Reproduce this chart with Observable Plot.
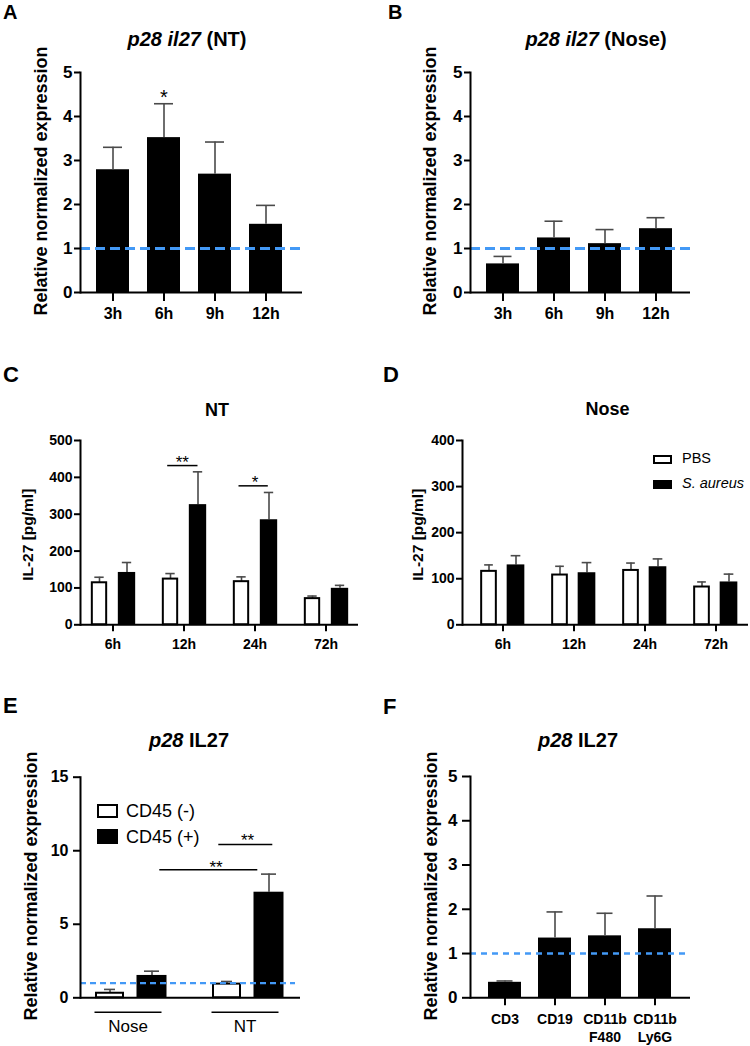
<!DOCTYPE html>
<html><head><meta charset="utf-8">
<script src="https://cdn.jsdelivr.net/npm/d3@7"></script>
<script src="https://cdn.jsdelivr.net/npm/@observablehq/plot@0.6"></script>
<style>
html,body{margin:0;padding:0;background:#fff;}
#fig{position:relative;width:750px;height:1046px;font-family:"Liberation Sans",Arial,Helvetica,sans-serif;color:#000;overflow:hidden;background:#fff}
.abs{position:absolute;white-space:nowrap;line-height:1}
.box{position:absolute;box-sizing:border-box;border:2px solid #000}
</style></head><body><div id="fig"></div>
<script>
// ---------- data ----------
const timesAB = ["3h", "6h", "9h", "12h"];
const ntMean = [2.79, 3.52, 2.69, 1.55];
const ntErr = [0.51, 0.77, 0.73, 0.43];
const noseMean = [0.65, 1.24, 1.11, 1.45];
const noseErr = [0.17, 0.38, 0.32, 0.25];

const timesCD = ["6h", "12h", "24h", "72h"];
const ntPbs = [114, 124, 117, 71];
const ntPbsErr = [15, 15, 13, 7];
const ntSa = [142, 326, 285, 99];
const ntSaErr = [27, 89, 74, 8];
const nosePbs = [116, 108, 118, 82];
const nosePbsErr = [14, 19, 16, 11];
const noseSa = [130, 113, 126, 93];
const noseSaErr = [20, 22, 17, 17];

const tissuesE = ["Nose", "NT"];
const cd45neg = [0.31, 0.93];
const cd45negErr = [0.26, 0.18];
const cd45pos = [1.52, 7.18];
const cd45posErr = [0.29, 1.23];

const cellsF = ["CD3", "CD19", "CD11b F480", "CD11b Ly6G"];
const cellMean = [0.35, 1.35, 1.40, 1.56];
const cellErr = [0.03, 0.59, 0.51, 0.74];

const ticksRel = [0, 1, 2, 3, 4, 5];
const ticksC = [0, 100, 200, 300, 400, 500];
const ticksD = [0, 100, 200, 300, 400];
const ticksE = [0, 5, 10, 15];
const refLevel = 1;

const sigA = [{cat: "6h", label: "*"}];
const sigC = [{cat: "12h", y: 432, label: "**"}, {cat: "24h", y: 377, label: "*"}];
const sigE = [{cat: "NT", y: 10.43, label: "**"}, {cat: "NT", y: 8.71, label: "**"}];

// ---------- helpers ----------
const FONT = '"Liberation Sans", Arial, Helvetica, sans-serif';
const BLUE = "#4399f6";
const ERR = "#4a4a4a";
const fmtInt = d3.format("d");
const fig = document.getElementById("fig");

function addSvg(svg, left, top) {
  svg.style.position = "absolute";
  svg.style.left = left + "px";
  svg.style.top = top + "px";
  svg.style.maxWidth = "none";
  fig.appendChild(svg);
}
function txt(html, x, base, size, opts = {}) {
  const d = document.createElement("div");
  d.className = "abs";
  const top = base - 0.8465 * size;
  const weight = opts.weight || "bold";
  let css = `top:${top}px;font-size:${size}px;font-weight:${weight};`;
  if (opts.center) css += `left:${x - 200}px;width:400px;text-align:center;`;
  else css += `left:${x}px;`;
  d.style.cssText = css + (opts.style || "");
  d.innerHTML = html;
  fig.appendChild(d);
}
function ylab(text, baselineX, cy, size) {
  const cx = baselineX - 0.3465 * size;
  const d = document.createElement("div");
  d.className = "abs";
  d.style.cssText = `left:${cx - 200}px;top:${cy - size / 2}px;width:400px;height:${size}px;text-align:center;font-size:${size}px;font-weight:bold;transform:rotate(-90deg);`;
  d.textContent = text;
  fig.appendChild(d);
}
function box(left, top, w, h, fill) {
  const d = document.createElement("div");
  d.className = "box";
  d.style.cssText = `left:${left}px;top:${top}px;width:${w}px;height:${h}px;background:${fill};`;
  fig.appendChild(d);
}
const baseStyle = {fontFamily: FONT, fontWeight: "bold", color: "#000", background: "transparent", overflow: "visible"};

function singlePanel(cfg) {
  const rows = cfg.cats.map((c, i) => ({cat: c, v: cfg.mean[i], top: cfg.mean[i] + cfg.err[i]}));
  const extra = [];
  if (cfg.sig) {
    const srows = cfg.sig.map(s => ({...s, y: rows.find(r => r.cat === s.cat).top}));
    extra.push(Plot.text(srows, {x: "cat", y: "y", text: "label", dy: cfg.sigDy, fontSize: 20, fontWeight: "normal", lineAnchor: "middle"}));
  }
  const svg = Plot.plot({
    width: cfg.W, height: cfg.H,
    marginLeft: cfg.ml, marginRight: cfg.mr, marginTop: cfg.mt, marginBottom: cfg.mb,
    x: {type: "band", domain: cfg.cats, range: cfg.range, paddingInner: 0.35, paddingOuter: 0.175},
    y: {domain: [0, d3.max(cfg.yTicks)]},
    style: baseStyle,
    marks: [
      Plot.barY(rows, {x: "cat", y: "v", fill: "#000"}),
      Plot.ruleX(rows, {x: "cat", y1: "v", y2: "top", stroke: ERR, strokeWidth: 1.6}),
      Plot.tickY(rows, {x: "cat", y: "top", stroke: ERR, strokeWidth: 1.6, inset: cfg.capInset}),
      Plot.ruleY([refLevel], {stroke: BLUE, strokeWidth: cfg.dashW, strokeDasharray: cfg.dash}),
      Plot.ruleY([0], {stroke: "#000", strokeWidth: 2}),
      Plot.frame({anchor: "left", stroke: "#000", strokeWidth: 2}),
      Plot.axisY({ticks: cfg.yTicks, tickFormat: fmtInt, tickSize: cfg.yTS, tickPadding: cfg.yTP, fontSize: cfg.yFS, label: null, strokeWidth: 2}),
      Plot.axisX({tickSize: cfg.xTS, tickPadding: cfg.xTP, fontSize: cfg.xFS, label: null, strokeWidth: 2,
        tickFormat: cfg.xFmt, lineHeight: cfg.lh || 1}),
      ...extra
    ]
  });
  addSvg(svg, cfg.left, cfg.top);
}

function groupedPanel(cfg) {
  const rows = cfg.cats.map((c, i) => ({cat: c, a: cfg.a[i], aTop: cfg.a[i] + cfg.aErr[i], b: cfg.b[i], bTop: cfg.b[i] + cfg.bErr[i]}));
  const half = (cfg.range[1] - cfg.range[0]) / cfg.cats.length / 2;
  const L = cfg.lay;
  const ins = (c, w) => ({insetLeft: half + c - w / 2, insetRight: half - c - w / 2});
  const svg = Plot.plot({
    width: cfg.W, height: cfg.H,
    marginLeft: cfg.ml, marginRight: cfg.mr, marginTop: cfg.mt, marginBottom: cfg.mb,
    x: {type: "band", domain: cfg.cats, range: cfg.range, padding: 0},
    y: {domain: [0, d3.max(cfg.yTicks)]},
    style: baseStyle,
    marks: [
      Plot.ruleX(rows, {x: "cat", y1: "a", y2: "aTop", dx: L.aC, stroke: ERR, strokeWidth: 1.6}),
      Plot.tickY(rows, {x: "cat", y: "aTop", stroke: ERR, strokeWidth: 1.6, ...ins(L.aC, L.capA)}),
      Plot.ruleX(rows, {x: "cat", y1: "b", y2: "bTop", dx: L.bC, stroke: ERR, strokeWidth: 1.6}),
      Plot.tickY(rows, {x: "cat", y: "bTop", stroke: ERR, strokeWidth: 1.6, ...ins(L.bC, L.capB)}),
      Plot.barY(rows, {x: "cat", y: "a", fill: "#fff", stroke: "#000", strokeWidth: 2, ...ins(L.aC, L.aW)}),
      Plot.barY(rows, {x: "cat", y: "b", fill: "#000", ...ins(L.bC, L.bW)}),
      ...(cfg.before || []),
      Plot.ruleY([0], {stroke: "#000", strokeWidth: 2}),
      Plot.frame({anchor: "left", stroke: "#000", strokeWidth: 2}),
      Plot.axisY({ticks: cfg.yTicks, tickFormat: fmtInt, tickSize: cfg.yTS, tickPadding: cfg.yTP, fontSize: cfg.yFS, label: null, strokeWidth: 2}),
      Plot.axisX({tickSize: cfg.xTS, tickPadding: cfg.xTP, fontSize: cfg.xFS, label: null, strokeWidth: 2,
        fontWeight: cfg.xFW || "bold", dx: cfg.xDx || 0}),
      ...(cfg.extra || [])
    ]
  });
  addSvg(svg, cfg.left, cfg.top);
}

// ---------- Panel A ----------
singlePanel({
  left: 0, top: 0, W: 375, H: 330, ml: 80, mr: 73, mt: 72, mb: 38,
  cats: timesAB, mean: ntMean, err: ntErr, range: [87.5, 291.5], yTicks: ticksRel,
  capInset: 7, dashW: 3, dash: "10,5",
  yTS: 6, yTP: 2, yFS: 17, xTS: 9, xTP: 6, xFS: 16,
  sig: sigA, sigDy: -6
});
// ---------- Panel B ----------
singlePanel({
  left: 375, top: 0, W: 375, H: 330, ml: 95, mr: 60, mt: 72, mb: 38,
  cats: timesAB, mean: noseMean, err: noseErr, range: [102.5, 306.5], yTicks: ticksRel,
  capInset: 7.5, dashW: 3, dash: "10,5",
  yTS: 6, yTP: 2, yFS: 17, xTS: 9, xTP: 6, xFS: 16
});
// ---------- Panel C ----------
const layC = {aC: -13.5, bC: 14, aW: 15, bW: 18, capA: 10, capB: 10};
groupedPanel({
  left: 0, top: 330, W: 375, H: 330, ml: 80, mr: 17, mt: 110, mb: 35.7,
  cats: timesCD, a: ntPbs, aErr: ntPbsErr, b: ntSa, bErr: ntSaErr,
  range: [75.2, 361.8], yTicks: ticksC, lay: layC,
  yTS: 6, yTP: 2, yFS: 14, xTS: 7, xTP: 7, xFS: 14,
  extra: [
    Plot.tickY(sigC.slice(0, 1), {x: "cat", y: "y", stroke: "#000", strokeWidth: 1.5, insetLeft: 19.2, insetRight: 21.5}),
    Plot.text(sigC.slice(0, 1), {x: "cat", y: "y", text: "label", dx: -1.7, dy: -3, fontSize: 17, fontWeight: "normal", lineAnchor: "middle"}),
    Plot.tickY(sigC.slice(1), {x: "cat", y: "y", stroke: "#000", strokeWidth: 1.5, insetLeft: 19.5, insetRight: 22.2}),
    Plot.text(sigC.slice(1), {x: "cat", y: "y", text: "label", dx: 0, dy: -3, fontSize: 17, fontWeight: "normal", lineAnchor: "middle"})
  ]
});
// ---------- Panel D ----------
const layD = {aC: -14, bC: 13, aW: 15, bW: 18, capA: 9, capB: 10};
groupedPanel({
  left: 375, top: 330, W: 375, H: 330, ml: 87, mr: 2, mt: 110, mb: 35.7,
  cats: timesCD, a: nosePbs, aErr: nosePbsErr, b: noseSa, bErr: noseSaErr,
  range: [91, 376.3], yTicks: ticksD, lay: layD,
  yTS: 6, yTP: 2, yFS: 14, xTS: 7, xTP: 7, xFS: 14
});
// ---------- Panel E ----------
const layE = {aC: -21, bC: 21, aW: 27, bW: 30, capA: 11, capB: 15};
groupedPanel({
  left: 0, top: 660, W: 375, H: 386, ml: 80, mr: 75, mt: 116.7, mb: 48.7,
  cats: tissuesE, a: cd45neg, aErr: cd45negErr, b: cd45pos, bErr: cd45posErr,
  range: [72.2, 306.2], yTicks: ticksE, lay: layE,
  yTS: 7, yTP: 5, yFS: 16, xTS: 0, xTP: 22, xFS: 17, xFW: "normal", xDx: -3,
  before: [
    Plot.ruleY([refLevel], {stroke: BLUE, strokeWidth: 2.2, strokeDasharray: "6,4", insetRight: 5})
  ],
  extra: [
    Plot.tickY(tissuesE.map(t => ({cat: t})), {x: "cat", y: 0, dy: 14.4, stroke: "#000", strokeWidth: 1.5, insetLeft: 22.5, insetRight: 27.5}),
    Plot.tickY(sigE.slice(0, 1), {x: "cat", y: "y", stroke: "#000", strokeWidth: 1.5, insetLeft: 29.3, insetRight: 33.7}),
    Plot.text(sigE.slice(0, 1), {x: "cat", y: "y", text: "label", dx: -0.5, dy: -3.4, fontSize: 17, fontWeight: "normal", lineAnchor: "middle"}),
    Plot.tickY(sigE.slice(1), {x: "cat", y: "y", stroke: "#000", strokeWidth: 1.5, insetLeft: -29.7, insetRight: 48.7}),
    Plot.text(sigE.slice(1), {x: "cat", y: "y", text: "label", dx: -32, dy: -2, fontSize: 17, fontWeight: "normal", lineAnchor: "middle"})
  ]
});
// ---------- Panel F ----------
singlePanel({
  left: 375, top: 660, W: 375, H: 386, ml: 95, mr: 60, mt: 116, mb: 48.7,
  cats: cellsF, mean: cellMean, err: cellErr, range: [102.7, 305.3], yTicks: ticksRel,
  capInset: 8.5, dashW: 2.4, dash: "6,5",
  yTS: 8, yTP: 5, yFS: 17, xTS: 8, xTP: 6, xFS: 14,
  xFmt: d => d.replace(" ", "\n"), lh: 1.25
});

// ---------- panel letters ----------
txt("A", 3, 19, 20);
txt("B", 388, 19, 20);
txt("C", 3, 383, 22);
txt("D", 383, 383, 22);
txt("E", 3, 714, 22);
txt("F", 383, 715, 22);

// ---------- titles ----------
txt("<i>p28 il27</i> (NT)", 187, 46, 20, {center: true});
txt("<i>p28 il27</i> (Nose)", 596, 46, 20, {center: true});
txt("NT", 217, 416, 18, {center: true});
txt("Nose", 607.5, 415, 18, {center: true});
txt("<i>p28</i> IL27", 189, 747, 20, {center: true});
txt("<i>p28</i> IL27", 578, 747, 20, {center: true});

// ---------- y-axis labels (x = baseline position) ----------
ylab("Relative normalized expression", 47, 181, 18);
ylab("Relative normalized expression", 436, 181, 18);
ylab("IL-27 [pg/ml]", 33.6, 535, 15.5);
ylab("IL-27 [pg/ml]", 423.2, 535, 15.5);
ylab("Relative normalized expression", 37.5, 886, 18);
ylab("Relative normalized expression", 437.5, 886, 18);

// ---------- legends ----------
box(653, 455, 19, 9, "#fff");
box(653, 480, 19, 9, "#000");
txt("PBS", 682, 463.5, 14.5, {weight: "normal"});
txt("<i>S. aureus</i>", 682, 488.5, 14.5, {weight: "normal"});

box(97, 804, 21, 14, "#fff");
box(97, 829, 21, 14.5, "#000");
txt("CD45 (-)", 126, 817.5, 18, {weight: "normal"});
txt("CD45 (+)", 126, 843, 18, {weight: "normal"});
</script></body></html>
